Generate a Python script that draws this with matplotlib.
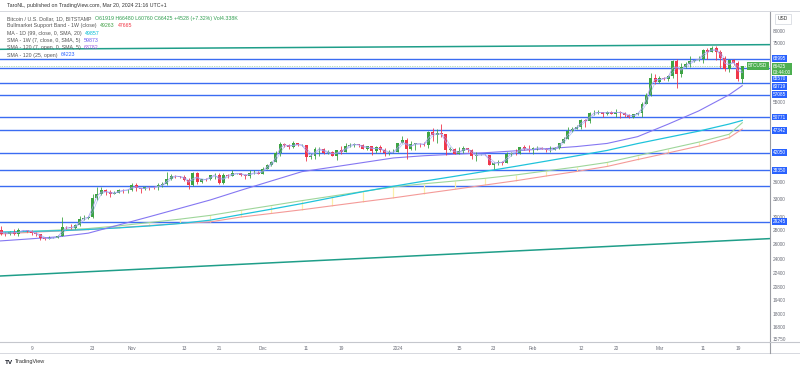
import numpy as np
import pandas as pd
import matplotlib
matplotlib.use("Agg")
import matplotlib.pyplot as plt
import matplotlib.dates as mdates
from matplotlib.lines import Line2D
from matplotlib.ticker import NullLocator

plt.rcParams["font.family"] = ["Liberation Sans", "DejaVu Sans"]

# ---- data (BTCUSD daily, Bitstamp) ----
start = pd.Timestamp("2023-10-01")
days = pd.date_range(start, periods=172, freq="D")

first_open = 26967
closes = [
    27990, 27500, 27430, 27790, 27410, 27950, 27970, 27930, 27590, 27390, 26870, 26750, 26860, 26860, 27150,
    28500, 28410, 28330, 28720, 29680, 29910, 29990, 33090, 33900, 34500, 34160, 33910, 34090, 34540, 34500, 34670,
    35420, 34940, 34730, 35080, 35050, 35040, 35430, 35650, 36700, 37310, 37130, 37070, 36490, 35550, 37880,
    36160, 36590, 36580, 37380, 37470, 35810, 37430, 37290, 37720, 37790, 37460, 37240, 37830, 37860, 37710,
    38690, 39470, 39980, 41990, 44080, 43770, 43290, 44170, 43730, 43790, 41240, 41450, 42890, 43020, 41940,
    42270, 41370, 42660, 42260, 43660, 43860, 43990, 43730, 43010, 43580, 42520, 43440, 42580, 42070, 42140, 42280,
    44180, 44950, 42840, 44150, 44160, 43970, 43930, 46970, 46120, 46630, 46340, 42780, 42840, 41740, 42510,
    43150, 42740, 41280, 41620, 41660, 41570, 39530, 39870, 40080, 39940, 41810, 42120, 42030, 43300, 42940, 42580,
    43080, 43200, 43010, 42580, 42660, 43090, 44340, 45290, 47150, 47770, 48290, 49960, 49700, 51830, 51930,
    52130, 51660, 52160, 51660, 52260, 51850, 51300, 50730, 51570, 51730, 54480, 57050, 62500, 61200,
    62440, 62030, 63130, 68330, 63800, 66110, 66940, 68300, 68500, 69020, 72100, 71480, 73080, 71400, 69400,
    65300, 68400, 67600, 61919, 66425,
]
highs = [
    28065, 28580, 27670, 27830, 28120, 28280, 28020, 28090, 27990, 27740, 27480, 26950, 27090, 26980, 27300,
    30000, 28600, 28980, 28880, 30200, 30330, 30190, 33900, 35200, 35100, 34820, 34500, 34480, 34760, 34850, 34720,
    35900, 35960, 34940, 35260, 35380, 35290, 35900, 35990, 37960, 37530, 37400, 37240, 37400, 36750, 37980,
    37940, 36730, 36840, 37510, 37750, 37850, 37880, 37650, 38420, 37900, 37830, 37590, 38420, 38400, 38150,
    38980, 39700, 40230, 42400, 44450, 44300, 44000, 44700, 44370, 44050, 43800, 42100, 43420, 43420, 43090,
    42700, 42430, 42760, 43480, 44300, 44230, 44390, 44040, 43940, 43700, 43600, 43680, 43800, 43120, 42600, 42880,
    44200, 45900, 45500, 44770, 44340, 44220, 44490, 47200, 47900, 47700, 48970, 46500, 43250, 43100, 43350,
    43580, 43200, 42930, 42170, 41870, 41880, 41650, 40150, 40500, 40270, 42180, 42200, 42840, 43320, 43880, 43740,
    43280, 43480, 43380, 43120, 43500, 43400, 44370, 45600, 48200, 48160, 48590, 50300, 50370, 52050, 52820,
    52570, 52200, 52380, 52500, 53000, 52400, 52050, 51570, 51700, 51980, 54900, 57550, 63900, 63600,
    63100, 62700, 63200, 68500, 69000, 67600, 67950, 69900, 68600, 69950, 72800, 72900, 73650, 73800, 72400,
    70000, 68800, 68900, 68100, 66480,
]
lows = [
    26955, 27330, 27160, 27220, 27360, 27180, 27860, 27720, 27290, 27130, 26560, 26560, 26690, 26800, 26840,
    27120, 28100, 28150, 28180, 28600, 29480, 29670, 29900, 32850, 33700, 33760, 33400, 33880, 33960, 34060, 34100,
    34360, 34330, 34120, 34590, 34540, 34740, 34520, 35110, 35540, 36360, 36780, 36750, 36350, 34800, 35370,
    35660, 35900, 36200, 36390, 36700, 35700, 35640, 36880, 37260, 37620, 37170, 36730, 36880, 37600, 37520,
    37630, 38650, 39230, 39970, 41420, 43350, 42850, 43100, 43600, 43590, 40250, 40700, 40650, 41430, 41700,
    41700, 41260, 40530, 41830, 42200, 43340, 43430, 43300, 42800, 42750, 41670, 42110, 42300, 41300, 41520, 41960,
    42200, 44180, 40750, 42650, 42600, 43420, 43620, 43200, 44700, 44300, 45600, 41500, 42450, 41700, 41700,
    42050, 42200, 40700, 40280, 41470, 41500, 39450, 38550, 39500, 39480, 39800, 41400, 41650, 41800, 42700, 42300,
    41880, 42600, 42890, 42280, 42260, 42580, 42800, 44330, 45250, 46850, 47560, 47750, 48300, 49280, 51300,
    51620, 50700, 51200, 51600, 50700, 50600, 50900, 50400, 50630, 51280, 50900, 54450, 56700, 60400,
    60800, 61600, 61300, 62500, 59300, 62800, 65600, 66100, 67900, 68100, 67300, 68800, 71300, 68600, 65600,
    64600, 64500, 66600, 61500, 60760,
]
opens = [first_open] + closes[:-1]

# weekly indicator values (Sundays + current bar)
band_dates = list(pd.date_range("2023-10-01", "2024-03-17", freq="7D")) + [pd.Timestamp("2024-03-20")]
sma20w = [27553, 27773, 28009, 28231, 28635, 29137, 29661, 30260, 31067, 31861, 32696, 33496, 34317,
          35141, 35736, 36250, 36769, 37432, 38227, 39040, 39978, 41434, 42923, 44487, 46374, 49263]
ema21w = [27412, 27643, 27862, 28083, 28365, 28679, 29013, 29245, 29992, 30564, 31165, 31831, 32507,
          33181, 33941, 34700, 35496, 36305, 37218, 38128, 39143, 40592, 42029, 43557, 45553, 47665]
ma99 = [27714, 27802, 27905, 28097, 28333, 28619, 28985, 29507, 30388, 31265, 32198, 33233, 34282,
        35271, 36229, 37158, 38145, 39163, 40251, 41392, 42586, 44156, 45626, 47137, 48932, 49857]
sma7w = [26418, 26712, 27023, 27553, 28771, 30042, 31397, 32818, 34535, 36268, 38086, 38998, 39953,
         40936, 41414, 41742, 42073, 42496, 42969, 43465, 44183, 45791, 48903, 52423, 57091, 59873]

levels = [68995, 65570, 60719, 57085, 50771, 47342, 42050, 38350, 35400, 29245]
level_labels = [68995, 65570, 60719, 57085, 50771, 47342, 42050, 38350, 29245]

trend_dates = [pd.Timestamp("2023-10-01"), pd.Timestamp("2024-03-27")]
top_trend = [72500, 74320]
low_trend = [21974, 26796]

last_price = 66425
yticks = [80000, 75000, 55000, 36000, 33000, 30000, 28000, 26000, 24000, 22400,
          20800, 19400, 18000, 16800, 15750]
xtick_dates = ["2023-10-09", "2023-10-23", "2023-11-01", "2023-11-13", "2023-11-21", "2023-12-01",
               "2023-12-11", "2023-12-19", "2024-01-01", "2024-01-15", "2024-01-23", "2024-02-01",
               "2024-02-12", "2024-02-20", "2024-03-01", "2024-03-11", "2024-03-19"]
xtick_labels = ["9", "23", "Nov", "13", "21", "Dec", "11", "19", "2024", "15", "23", "Feb",
                "12", "20", "Mar", "11", "19"]

UP, DOWN = "#3da443", "#f0364a"
LEVEL = "#3b6cf2"
GREY = "#6a6d78"

fig = plt.figure(figsize=(8, 3.7), dpi=100)
W, H = 800, 370
ax = fig.add_axes([0, 1 - 342 / H, 770 / W, (342 - 11) / H])
ax.set_yscale("log")

x = mdates.date2num(days)
o = np.array(opens, float)
c = np.array(closes, float)
col = [UP if cc >= oo else DOWN for oo, cc in zip(o, c)]

# levels and trend lines
for v in levels:
    ax.axhline(v, color=LEVEL, lw=1.0, zorder=2)
ax.plot(trend_dates, top_trend, color="#1f9e89", lw=1.1, zorder=2)
ax.plot(trend_dates, low_trend, color="#1f9e89", lw=1.1, zorder=2)
ax.axhline(last_price, color="#4caf50", lw=0.5, ls=(0, (1, 1.5)), alpha=0.8, zorder=2)

# indicators
ax.vlines(band_dates[1:-1], ema21w[1:-1], sma20w[1:-1], color="#fbf0a8", lw=0.9, zorder=2.5)
ax.plot(band_dates, sma20w, color="#9ed69a", lw=0.8, zorder=3)
ax.plot(band_dates, ema21w, color="#f49a98", lw=0.8, zorder=3)
ax.plot(band_dates, ma99, color="#1fc3db", lw=0.9, zorder=3)
ax.plot(band_dates, sma7w, color="#8577f2", lw=0.8, zorder=3)

# candles
ax.vlines(x, lows, highs, colors=col, lw=0.6, zorder=4)
ax.bar(x, np.maximum(np.abs(c - o), 40), bottom=np.minimum(o, c), width=0.68,
       color=col, zorder=4.2)
mid = (o + c) / 2
ax.plot(x, mid, color="#a99bf2", lw=0.6, alpha=0.9, zorder=5)
ax.plot(x, pd.Series(mid).rolling(2, min_periods=1).mean(), color="#8fa6f6", lw=0.5, alpha=0.7, zorder=5)

ax.set_xlim(mdates.date2num(start) + 0.757, mdates.date2num(start) + 177.36)
ax.set_ylim(15540, 88700)

# axes styling
ax.yaxis.tick_right()
ax.yaxis.set_minor_locator(NullLocator())
ax.set_yticks(yticks)
ax.set_yticklabels([str(t) for t in yticks])
ax.set_xticks(mdates.date2num(pd.to_datetime(xtick_dates)))
ax.set_xticklabels(xtick_labels)
ax.tick_params(axis="y", length=0, pad=2.2, labelsize=3.4, colors=GREY)
ax.tick_params(axis="x", length=0, pad=2.6, labelsize=3.4, colors=GREY)
for s in ("top", "left"):
    ax.spines[s].set_visible(False)
ax.spines["right"].set_color("#9a9ca3")
ax.spines["right"].set_linewidth(0.8)
ax.spines["bottom"].set_color("#c5c7cd")
ax.spines["bottom"].set_linewidth(0.8)

# frame lines of the widget
fig.add_artist(Line2D([0, 1], [1 - 11 / H] * 2, color="#d6d8de", lw=0.7))
fig.add_artist(Line2D([0, 1], [1 - 353 / H] * 2, color="#d6d8de", lw=0.7))
fig.add_artist(Line2D([770 / W] * 2, [1 - 353 / H, 1 - 342 / H], color="#9a9ca3", lw=0.8))
fig.add_artist(Line2D([770 / W, 1], [1 - 342 / H] * 2, color="#c5c7cd", lw=0.8))

# right-axis price labels
ytr = ax.get_yaxis_transform()
label_shift = {65570: -7.6, 60719: -2.6}
for v in level_labels:
    ax.annotate(str(v), xy=(1, v), xycoords=ytr, xytext=(2.0, label_shift.get(v, 0)),
                textcoords="offset points", ha="left", va="center", fontsize=3.4, color="white",
                bbox=dict(boxstyle="square,pad=0.2", fc="#2962ff", ec="none"),
                annotation_clip=False, zorder=7)
ax.annotate(f"{last_price}\n03:44:00", xy=(1, last_price), xycoords=ytr, xytext=(2.0, 1.6),
            textcoords="offset points", ha="left", va="top", fontsize=3.4, color="white",
            linespacing=1.2, bbox=dict(boxstyle="square,pad=0.2", fc="#4caf50", ec="none"),
            annotation_clip=False, zorder=8)
ax.annotate("BTCUSD", xy=(1, last_price), xycoords=ytr, xytext=(-2.0, 0),
            textcoords="offset points", ha="right", va="center", fontsize=3.4, color="white",
            bbox=dict(boxstyle="square,pad=0.3", fc="#4caf50", ec="none"), zorder=8)
fig.text(783 / W, 1 - 19 / H, "USD", ha="center", va="center", fontsize=3.5, color="#333",
         bbox=dict(boxstyle="square,pad=0.6", fc="white", ec="#d1d4dc", lw=0.5))

# header and legend
fig.text(7 / W, 1 - 5.7 / H, "TaroNL, published on TradingView.com, Mar 20, 2024 21:16 UTC+1",
         fontsize=3.8, color="#333", va="center")

rows = [
    [("Bitcoin / U.S. Dollar, 1D, BITSTAMP", "#555"),
     ("O61919 H66480 L60760 C66425 +4528 (+7.32%) Vol4.338K", "#2f9e4f")],
    [("Bullmarket Support Band - 1W (close)", "#555"), ("49263", "#43a047"), ("47665", "#f23645")],
    [("MA - 1D (99, close, 0, SMA, 20)", "#555"), ("49857", "#00bcd4")],
    [("SMA - 1W (7, close, 0, SMA, 5)", "#555"), ("59873", "#6a5cf0")],
    [("SMA - 120 (7, open, 0, SMA, 5)", "#555"), ("63782", "#9c5ce0")],
    [("SMA - 120 (25, open)", "#555"), ("64223", "#2962ff")],
]
row_y = [18.3, 25.7, 33.2, 40.6, 47.8, 55.0]
for yy, parts in zip(row_y, rows):
    t = fig.text(7 / W, 1 - yy / H, parts[0][0], fontsize=3.75, color=parts[0][1], va="center")
    for s, cc in parts[1:]:
        t = ax.annotate(s, xy=(1, 0.5), xycoords=t, xytext=(2.3, 0), textcoords="offset points",
                        fontsize=3.75, color=cc, va="center", ha="left", annotation_clip=False)

# logo
lg = fig.text(5 / W, 1 - 362 / H, "TV", fontsize=4.6, fontweight="bold", color="#131722", va="center")
ax.annotate("TradingView", xy=(1, 0.5), xycoords=lg, xytext=(1.2, 0), textcoords="offset points",
            fontsize=4.0, color="#333", va="center", ha="left", annotation_clip=False)

fig.savefig("out.png", dpi=100, facecolor="white")
